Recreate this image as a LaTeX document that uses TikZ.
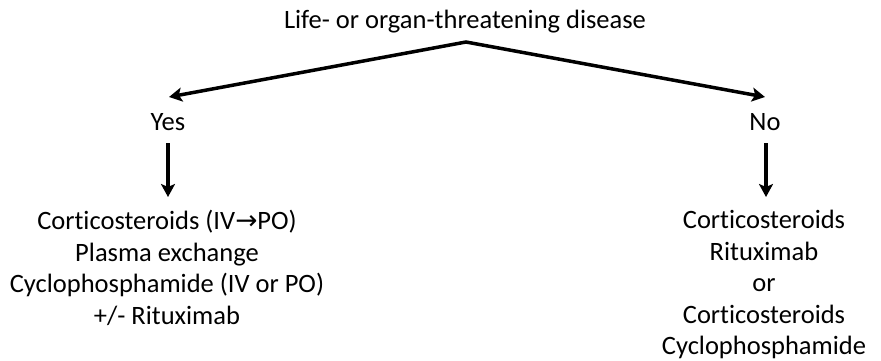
\documentclass[tikz,border=0pt]{standalone}
\usepackage{fontspec}
\setmainfont{Carlito}[Ligatures={NoCommon}]
\newfontfamily\arrfont{DejaVu Sans}
\usetikzlibrary{arrows.meta}
\tikzset{
  lbl/.style={inner sep=0pt, font=\fontsize{26.5}{31.5}\selectfont},
  ttl/.style={inner sep=0pt, font=\fontsize{26.5}{31.5}\selectfont},
  blk/.style={inner sep=0pt, align=center, anchor=north, font=\fontsize{26.5}{31.5}\selectfont},
  arr/.style={line width=3.5pt, -{Stealth[length=13pt,width=14pt,inset=3pt]}},
  arrboth/.style={line width=3.5pt, line join=miter, {Stealth[length=13pt,width=14pt,inset=3pt]}-{Stealth[length=13pt,width=14pt,inset=3pt]}},
}
\begin{document}
\begin{tikzpicture}[x=1pt,y=-1pt]
\useasboundingbox (0,0) rectangle (881,360);
\node[ttl] (title) at (465,22) {Life- or organ-threatening disease};
\coordinate (apex) at (466,42);
\coordinate (ytip) at (169,97);
\coordinate (ntip) at (765,97);
\node[lbl] (yes) at (168,122) {Yes};
\node[lbl] (no) at (765,122) {No};
\coordinate (ys) at (168,143);
\coordinate (ye) at (168,197);
\coordinate (ns) at (766,143);
\coordinate (ne) at (766,197);
\node[blk] (left) at (167,210) {Corticosteroids (IV{\arrfont →}PO)\\Plasma exchange\\Cyclophosphamide (IV or PO)\\+/- Rituximab};
\node[blk] (right) at (764,210) {Corticosteroids\\Rituximab\\or\\Corticosteroids\\Cyclophosphamide};
\draw[arrboth] (ytip) -- (apex) -- (ntip);
\draw[arr] (ys) -- (ye);
\draw[arr] (ns) -- (ne);
\end{tikzpicture}
\end{document}
